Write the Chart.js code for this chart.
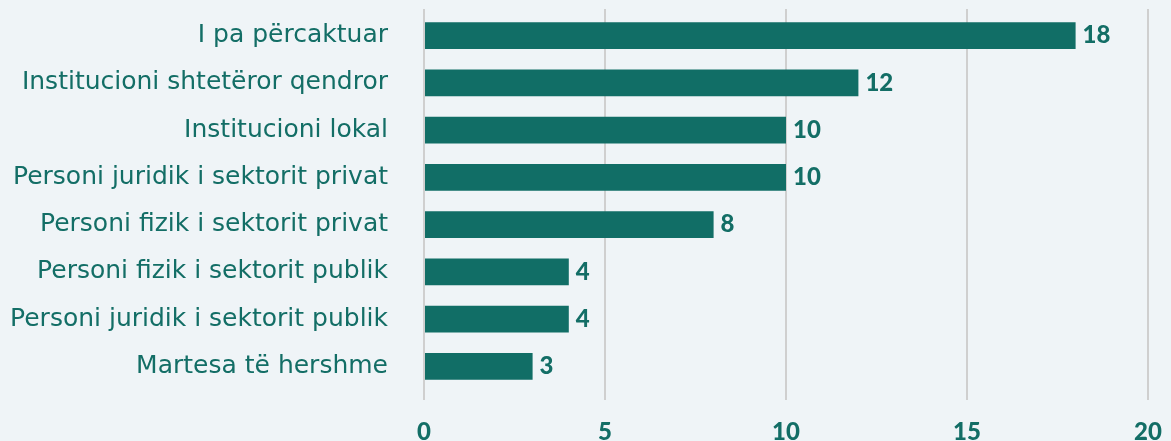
<!DOCTYPE html>
<html><head><meta charset="utf-8">
<script src="https://cdn.jsdelivr.net/npm/chart.js@4/dist/chart.umd.min.js"></script>
<style>html,body{margin:0;padding:0;background:#eff4f7;}#wrap{width:1171px;height:441px;}</style>
</head><body><div id="wrap"><canvas id="c" width="1171" height="441"></canvas></div>
<script>
const categories = ["I pa përcaktuar","Institucioni shtetëror qendror","Institucioni lokal","Personi juridik i sektorit privat","Personi fizik i sektorit privat","Personi fizik i sektorit publik","Personi juridik i sektorit publik","Martesa të hershme"];
const values = [18,12,10,10,8,4,4,3];
const xTicks = [0,5,10,15,20];

const TEAL = '#136e66';
const BAR = '#116e66';
const GRID = '#cfcfcf';
const LABEL_FONT = '"DejaVu Sans", sans-serif';
const NUM_FONT = 'Lato, "Open Sans", sans-serif';

const valueLabels = {
  id:'valueLabels',
  afterDatasetsDraw(chart){
    const ctx = chart.ctx;
    const meta = chart.getDatasetMeta(0);
    ctx.save();
    ctx.fillStyle = TEAL;
    ctx.font = '900 24px ' + NUM_FONT;
    ctx.textAlign = 'left';
    ctx.textBaseline = 'middle';
    meta.data.forEach((bar,i)=>{
      ctx.fillText(String(values[i]), bar.x + 7, bar.y);
    });
    ctx.restore();
  }
};
const gridTop = {
  id:'gridTop',
  beforeDatasetsDraw(chart){
    const ctx = chart.ctx, x = chart.scales.x, top = chart.chartArea.top;
    ctx.save(); ctx.strokeStyle = GRID; ctx.lineWidth = 2;
    xTicks.forEach(v=>{ const px = Math.round(x.getPixelForValue(v)); ctx.beginPath(); ctx.moveTo(px, top-3); ctx.lineTo(px, top+1); ctx.stroke(); });
    ctx.restore();
  }
};
const bg = {
  id:'bg',
  beforeDraw(chart){
    const ctx = chart.ctx; ctx.save(); ctx.fillStyle='#eff4f7'; ctx.fillRect(0,0,chart.width,chart.height); ctx.restore();
  }
};

new Chart(document.getElementById('c'), {
  type:'bar',
  data:{labels:categories, datasets:[{data:values, backgroundColor:BAR, barPercentage:0.571, categoryPercentage:1.0}]},
  options:{
    indexAxis:'y',
    responsive:false,
    animation:false,
    layout:{padding:{top:12,right:23,left:0,bottom:0}},
    plugins:{legend:{display:false},tooltip:{enabled:false}},
    scales:{
      x:{
        min:0,max:20,
        afterBuildTicks(s){ s.ticks = xTicks.map(v=>({value:v})); },
        afterFit(s){ s.height = 51; s.paddingLeft = 0; s.paddingRight = 0; },
        border:{display:false},
        grid:{color:GRID, lineWidth:2, drawTicks:true, tickLength:10},
        ticks:{color:TEAL, padding:18, font:{family:NUM_FONT, size:24, weight:'900'}}
      },
      y:{
        afterFit(s){ s.width = 424; s.paddingTop = 0; s.paddingBottom = 0; },
        border:{display:false},
        grid:{display:false, drawTicks:false},
        ticks:{color:TEAL, padding:36, font:{family:LABEL_FONT, size:25}}
      }
    }
  },
  plugins:[bg, gridTop, valueLabels]
});
</script></body></html>
